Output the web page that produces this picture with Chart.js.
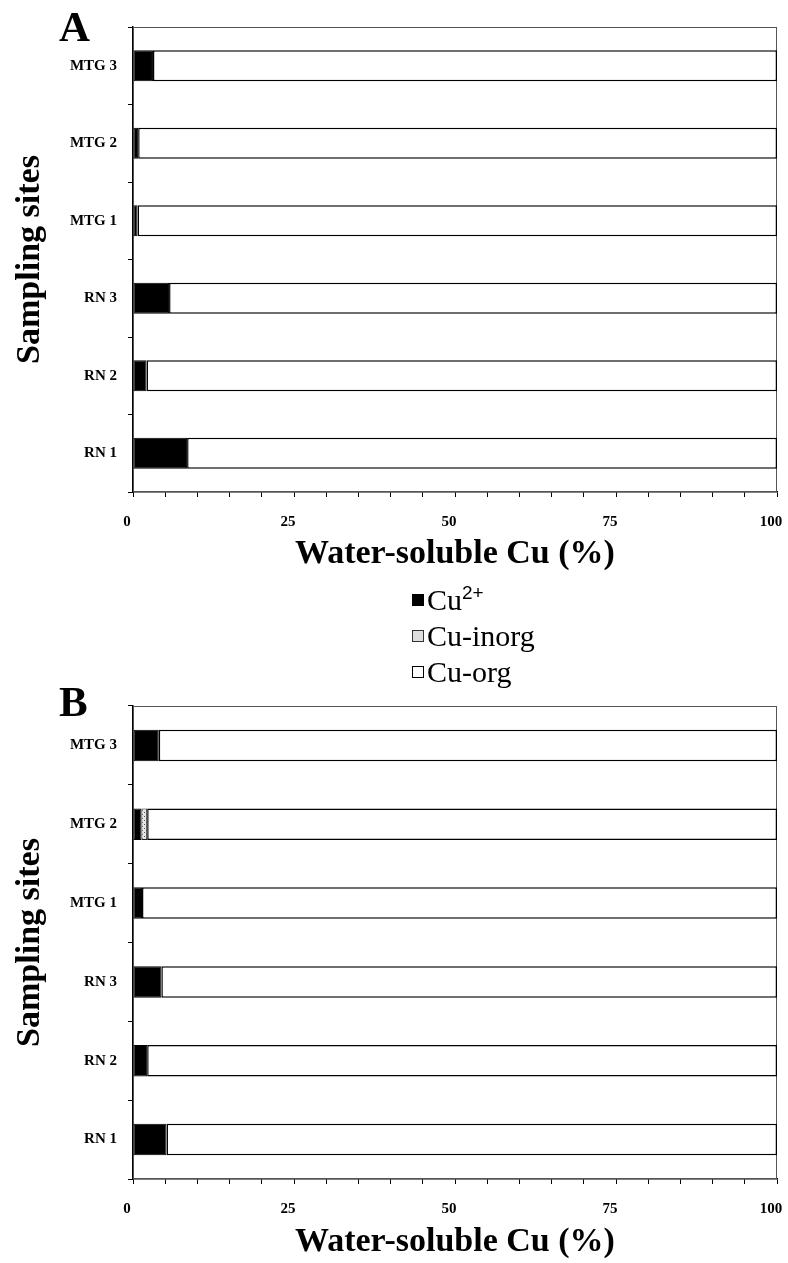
<!DOCTYPE html>
<html>
<head>
<meta charset="utf-8">
<script src="https://cdn.jsdelivr.net/npm/chart.js@4.4.1/dist/chart.umd.min.js"></script>
<style>
  body { margin: 0; background: #fff; }
  #wrap { position: relative; width: 788px; height: 1263px; font-family: "Liberation Serif", "Times New Roman", serif; }
  canvas { position: absolute; left: 0; }
  #chartA { top: 0; }
  #chartB { top: 680px; }
  .panel { position: absolute; left: 59px; font-weight: bold; font-size: 43px; line-height: 1; }
  #legend { position: absolute; left: 412px; top: 582px; font-size: 30px; line-height: 36px; }
  #legend .item { display: flex; align-items: center; white-space: nowrap; }
  #legend .box { width: 12px; height: 12px; border: 1px solid #000; margin-right: 3px; box-sizing: border-box; }
  #legend sup { font-family: "Liberation Sans", Arial, sans-serif; font-size: 19px; vertical-align: 11px; line-height: 0; }
</style>
</head>
<body>
<div id="wrap">
  <canvas id="chartA" width="788" height="575"></canvas>
  <canvas id="chartB" width="788" height="583"></canvas>
  <div class="panel" style="top:5px">A</div>
  <div class="panel" style="top:680px">B</div>
  <div id="legend"></div>
</div>
<script>
const sites = ["MTG 3", "MTG 2", "MTG 1", "RN 3", "RN 2", "RN 1"];
const seriesNames = ["Cu2+", "Cu-inorg", "Cu-org"];
const xTicks = [0, 25, 50, 75, 100];

// panel A
const cu2A = [3.1, 0.8, 0.7, 5.6, 2.1, 8.4];
const inorgA = [0, 0, 0, 0, 0, 0];
const orgA = [96.9, 99.2, 99.3, 94.4, 97.9, 91.6];

// panel B
const cu2B = [4.0, 1.3, 1.4, 4.4, 2.2, 5.2];
const inorgB = [0, 0.9, 0, 0, 0, 0];
const orgB = [96.0, 97.8, 98.6, 95.6, 97.8, 94.8];

function makePattern() {
  const c = document.createElement("canvas");
  c.width = 4; c.height = 4;
  const g = c.getContext("2d");
  g.fillStyle = "#e6e6e6";
  g.fillRect(0, 0, 4, 4);
  g.fillStyle = "#555";
  g.fillRect(0, 0, 1, 1);
  g.fillRect(2, 2, 1, 1);
  return g.createPattern(c, "repeat");
}
const inorgFill = makePattern();

const frame = {
  id: "frame",
  beforeDatasetsDraw(chart) {
    const a = chart.chartArea;
    const ctx = chart.ctx;
    ctx.save();
    ctx.strokeStyle = "#555";
    ctx.lineWidth = 1;
    ctx.strokeRect(a.left + 0.5, a.top + 0.5, a.right - a.left - 1, a.bottom - a.top - 1);
    ctx.restore();
  }
};

function drawPanel(id, cu2, inorg, org, padTop, xHeight) {
  const ctx = document.getElementById(id).getContext("2d");
  new Chart(ctx, {
    type: "bar",
    data: {
      labels: sites,
      datasets: [
        { label: seriesNames[0], data: cu2, backgroundColor: "#000", borderColor: "#000", borderWidth: 1, borderSkipped: false },
        { label: seriesNames[1], data: inorg, backgroundColor: inorgFill, borderColor: "#222",
          borderWidth: c => (c.raw > 0 ? 1 : 0), borderSkipped: false },
        { label: seriesNames[2], data: org, backgroundColor: "#fff", borderColor: "#000", borderWidth: 1.5, borderSkipped: false }
      ]
    },
    options: {
      indexAxis: "y",
      responsive: false,
      animation: false,
      layout: { padding: { top: padTop, right: 11, left: 0, bottom: 0 } },
      datasets: { bar: { categoryPercentage: 1, barPercentage: 0.4 } },
      plugins: { legend: { display: false }, tooltip: { enabled: false } },
      scales: {
        x: {
          stacked: true,
          min: 0,
          max: 100,
          afterFit: s => { s.height = xHeight; s.paddingLeft = 0; s.paddingRight = 0; },
          border: { color: "#000", width: 1.5 },
          grid: { drawOnChartArea: false, drawTicks: true, tickLength: 5, color: "#000" },
          ticks: {
            stepSize: 5,
            autoSkip: false,
            maxRotation: 0,
            padding: 16,
            labelOffset: -6,
            color: "#000",
            font: { family: "Liberation Serif", size: 15, weight: "bold" },
            callback: v => (xTicks.includes(v) ? v : "")
          },
          title: {
            display: true,
            text: "Water-soluble Cu (%)",
            color: "#000",
            padding: 0,
            font: { family: "Liberation Serif", size: 34, weight: "bold", lineHeight: 1.2 }
          }
        },
        y: {
          stacked: true,
          afterFit: s => { s.width = 133; },
          border: { color: "#000", width: 1.5 },
          grid: { drawOnChartArea: false, drawTicks: true, tickLength: 5, color: "#000", offset: true },
          ticks: {
            padding: 11,
            color: "#000",
            font: { family: "Liberation Serif", size: 15, weight: "bold" }
          },
          title: {
            display: true,
            text: "Sampling sites",
            color: "#000",
            padding: { top: 10, bottom: 0 },
            font: { family: "Liberation Serif", size: 34, weight: "bold", lineHeight: 1.2 }
          }
        }
      }
    },
    plugins: [frame]
  });
}

drawPanel("chartA", cu2A, inorgA, orgA, 27, 83);
drawPanel("chartB", cu2B, inorgB, orgB, 26, 84);

// legend between the panels
const legend = document.getElementById("legend");
const boxStyles = ["background:#000", "background:#ddd;border-color:#333", "background:#fff"];
seriesNames.forEach((name, i) => {
  const row = document.createElement("div");
  row.className = "item";
  const box = document.createElement("span");
  box.className = "box";
  box.style.cssText = boxStyles[i];
  const txt = document.createElement("span");
  if (name === "Cu2+") {
    txt.innerHTML = "Cu<sup>2+</sup>";
  } else {
    txt.textContent = name;
  }
  row.appendChild(box);
  row.appendChild(txt);
  legend.appendChild(row);
});
</script>
</body>
</html>
